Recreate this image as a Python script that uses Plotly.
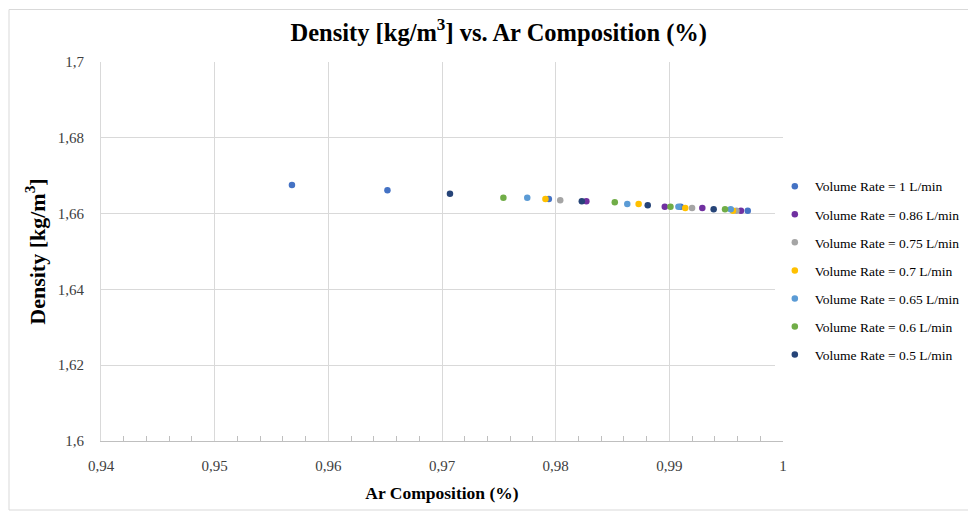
import plotly.graph_objects as go

# Ar composition (x) and density (y) per volume rate
series_names = ["Volume Rate = 1 L/min", "Volume Rate = 0.86 L/min", "Volume Rate = 0.75 L/min",
                "Volume Rate = 0.7 L/min", "Volume Rate = 0.65 L/min", "Volume Rate = 0.6 L/min",
                "Volume Rate = 0.5 L/min"]

ar_1 = [0.9568, 0.9652, 0.9794, 0.9910, 0.9969]
rho_1 = [1.66757, 1.66619, 1.66384, 1.66183, 1.66078]

ar_086 = [0.9827, 0.9896, 0.9929, 0.9963]
rho_086 = [1.66324, 1.66183, 1.66150, 1.66078]

ar_075 = [0.9804, 0.9920, 0.9959]
rho_075 = [1.66350, 1.66150, 1.66078]

ar_07 = [0.9791, 0.9873, 0.9914, 0.9956]
rho_07 = [1.66384, 1.66253, 1.66150, 1.66078]

ar_065 = [0.9775, 0.9863, 0.9908, 0.9954]
rho_065 = [1.66418, 1.66253, 1.66183, 1.66115]

ar_06 = [0.9754, 0.9852, 0.9901, 0.9949]
rho_06 = [1.66418, 1.66298, 1.66183, 1.66115]

ar_05 = [0.9707, 0.9823, 0.9881, 0.9939]
rho_05 = [1.66522, 1.66324, 1.66219, 1.66115]

xs = [ar_1, ar_086, ar_075, ar_07, ar_065, ar_06, ar_05]
ys = [rho_1, rho_086, rho_075, rho_07, rho_065, rho_06, rho_05]
colors = ["#4472C4", "#7030A0", "#A5A5A5", "#FFC000", "#5B9BD5", "#70AD47", "#264478"]

font = "Liberation Serif, Times New Roman, serif"

fig = go.Figure()
for i, (name, x, y, c) in enumerate(zip(series_names, xs, ys, colors)):
    fig.add_trace(go.Scatter(x=x, y=y, mode="markers", name=name, legendgroup=str(i),
                             marker=dict(color=c, size=6.5)))

# the page body adds an 8px offset, so the figure is 8px smaller than the window
fig.update_layout(
    width=968, height=504,
    margin=dict(l=93, r=193, t=54, b=71, autoexpand=False),
    paper_bgcolor="white", plot_bgcolor="white",
    separators=", ",
    font=dict(family=font, color="#404040"),
    title=dict(text="<b>Density [kg/m<sup>3</sup>] vs. Ar Composition (%)</b>",
               x=0.507, xanchor="center", y=0.952, yanchor="middle",
               font=dict(size=24.5, color="black", family=font)),
    legend=dict(x=0.988, xanchor="left", y=0.45, yanchor="middle",
                font=dict(size=13.5, color="black", family=font),
                tracegroupgap=7.5, itemwidth=30),
    showlegend=True,
)

fig.update_xaxes(
    range=[0.94, 1.0], dtick=0.01, tick0=0.94,
    showgrid=True, gridcolor="#d9d9d9", gridwidth=1,
    showline=True, linecolor="#bfbfbf", linewidth=1,
    ticks="", ticklabelstandoff=11, tickfont=dict(size=15, family=font, color="#404040"),
    minor=dict(ticks="inside", dtick=0.002, ticklen=5, tickcolor="#bfbfbf", showgrid=False),
    zeroline=False,
    title=dict(text="<b>Ar Composition (%)</b>", font=dict(size=17.5, color="black", family=font), standoff=13),
)
fig.update_yaxes(
    range=[1.6, 1.7], dtick=0.02, tick0=1.6,
    showgrid=True, gridcolor="#d9d9d9", gridwidth=1,
    showline=True, linecolor="#d9d9d9", linewidth=1,
    ticks="", ticklabelstandoff=13, tickfont=dict(size=15, family=font, color="#404040"),
    zeroline=False,
    title=dict(text="<b>Density [kg/m<sup>3</sup>]</b>", font=dict(size=22, color="black", family=font), standoff=6),
)

# chart-area border like the original
fig.add_shape(type="rect", xref="paper", yref="paper",
              x0=(1 - 93) / 682, x1=(990 - 93) / 682,
              y0=(433 - 502) / 379, y1=(433 - 1.5) / 379,
              line=dict(color="#d9d9d9", width=1), layer="below")

fig.write_html("out.html")
